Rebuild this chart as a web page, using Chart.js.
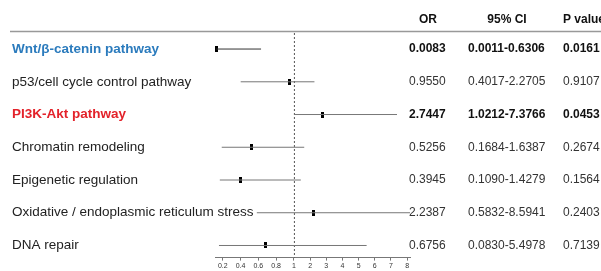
<!DOCTYPE html>
<html>
<head>
<meta charset="utf-8">
<script src="https://cdn.jsdelivr.net/npm/chart.js@4"></script>
<style>
  html, body { margin: 0; padding: 0; background: #fff; }
  canvas { display: block; }
</style>
</head>
<body>
<canvas id="grafico" width="601" height="271"></canvas>
<script>
const pathways = [
  'Wnt/β-catenin pathway',
  'p53/cell cycle control pathway',
  'PI3K-Akt pathway',
  'Chromatin remodeling',
  'Epigenetic regulation',
  'Oxidative / endoplasmic reticulum stress',
  'DNA repair'
]
const orValues = [0.0083, 0.9550, 2.7447, 0.5256, 0.3945, 2.2387, 0.6756]
const ciLow = [0.0011, 0.4017, 1.0212, 0.1684, 0.1090, 0.5832, 0.0830]
const ciHigh = [0.6306, 2.2705, 7.3766, 1.6387, 1.4279, 8.5941, 5.4978]
const pValues = ['0.0161', '0.9107', '0.0453', '0.2674', '0.1564', '0.2403', '0.7139']
const tickValues = [0.2, 0.4, 0.6, 0.8, 1, 2, 3, 4, 5, 6, 7, 8]

// the axis is stretched: steps of 0.2 below 1, steps of 1 above
const t = v => {
  if (v < 0.2) return -(0.2 - v) / 0.2 * 0.4
  if (v <= 1) return (v - 0.2) / 0.2 * 1.1
  return 4.4 + (v - 1)
}

const fonte = '"Liberation Sans", Arial, sans-serif'
const destaque = ['#2b7bbd', null, '#e3222a', null, null, null, null]

let marca = document.createElement('canvas')
marca.width = 3
marca.height = 6
let mctx = marca.getContext('2d')
mctx.fillStyle = '#000'
mctx.fillRect(0, 0, 3, 6)

let linhas = pathways.map((p, i) => ({
  type: 'line',
  data: [{ x: t(ciLow[i]), y: i }, { x: t(ciHigh[i]), y: i }],
  borderColor: i === 0 ? '#333' : '#777',
  borderWidth: 1,
  pointRadius: 0,
  showLine: true
}))

let pontos = {
  type: 'scatter',
  data: orValues.map((v, i) => ({ x: t(v), y: i })),
  pointStyle: marca,
  pointRadius: 3
}

const textos = {
  id: 'textos',
  beforeDatasetsDraw(chart) {
    let c = chart.ctx
    let x1 = chart.scales.x.getPixelForValue(t(1))
    c.save()
    c.strokeStyle = '#555'
    c.lineWidth = 1
    c.setLineDash([2, 2])
    c.beginPath()
    c.moveTo(x1 + 0.5, chart.chartArea.top)
    c.lineTo(x1 + 0.5, chart.chartArea.bottom)
    c.stroke()
    c.restore()
  },
  afterDraw(chart) {
    let c = chart.ctx
    let y = chart.scales.y
    c.save()
    c.textBaseline = 'middle'

    c.font = 'bold 12px ' + fonte
    c.fillStyle = '#111'
    c.textAlign = 'center'
    c.fillText('OR', 428, 20)
    c.fillText('95% CI', 507, 20)
    c.textAlign = 'left'
    c.fillText('P value', 563, 20)

    c.strokeStyle = '#999'
    c.lineWidth = 1.5
    c.beginPath()
    c.moveTo(10, 31.5)
    c.lineTo(601, 31.5)
    c.stroke()

    pathways.forEach((p, i) => {
      let py = y.getPixelForValue(i)
      let forte = destaque[i] !== null
      c.textAlign = 'left'
      c.font = (forte ? 'bold ' : '') + '13.5px ' + fonte
      c.fillStyle = forte ? destaque[i] : '#222'
      c.fillText(p, 12, py)
      c.font = (forte ? 'bold ' : '') + '12px ' + fonte
      c.fillStyle = forte ? '#111' : '#333'
      c.fillText(orValues[i].toFixed(4), 409, py)
      c.fillText(ciLow[i].toFixed(4) + '-' + ciHigh[i].toFixed(4), 468, py)
      c.fillText(pValues[i], 563, py)
    })
    c.restore()
  }
}

let grafico = new Chart(document.getElementById('grafico').getContext('2d'), {
  data: { datasets: [...linhas, pontos] },
  options: {
    responsive: false,
    animation: false,
    layout: { padding: { left: 215, right: 191, top: 33, bottom: 0 } },
    plugins: { legend: { display: false }, tooltip: { enabled: false } },
    scales: {
      x: {
        type: 'linear',
        min: -0.48,
        max: 11.58,
        afterBuildTicks: s => { s.ticks = tickValues.map(v => ({ value: t(v) })) },
        ticks: {
          callback: (val, i) => tickValues[i],
          font: { size: 7, family: fonte },
          color: '#333',
          padding: 1,
          autoSkip: false,
          maxRotation: 0
        },
        grid: { drawOnChartArea: false, tickLength: 3, color: '#777' },
        border: { color: '#777' }
      },
      y: { display: false, type: 'linear', min: -0.49, max: 6.37, reverse: true }
    }
  },
  plugins: [textos]
})
</script>
</body>
</html>
